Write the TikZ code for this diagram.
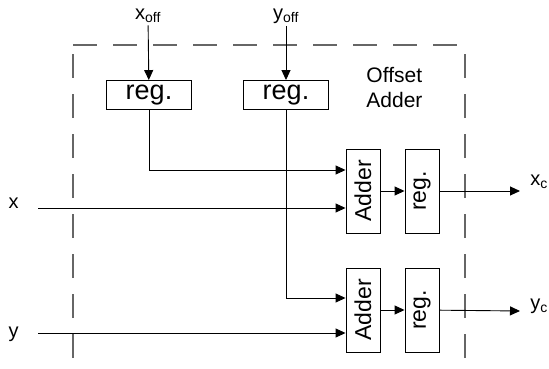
\documentclass[tikz,border=0pt]{standalone}
\usepackage{fontspec}
\setmainfont{Liberation Sans}
\usepackage{graphicx}
\usetikzlibrary{arrows.meta, positioning}

\begin{document}
\begin{tikzpicture}[x=1pt, y=-1pt, line width=0.9pt, >={Triangle[length=10pt,width=9pt]},
        every node/.style={inner sep=2pt, font=\fontsize{20}{25}\selectfont},
        regbox/.style={draw, minimum width=85pt, minimum height=29pt, inner sep=0pt, font=\fontsize{27}{30}\selectfont},
        addbox/.style={draw, minimum width=34pt, minimum height=84pt, inner sep=0pt, font=\fontsize{23}{26}\selectfont},
        dashbox/.style={draw=black!60, line width=1.2pt, dash pattern=on 24pt off 16pt}]
        \useasboundingbox (0,0) rectangle (549,369);
        % Offset adder frame
        \draw[dashbox] (73,358) -- (73,45);
        \draw[dashbox] (73,45) -- (465,45);
        \draw[dashbox] (465,358) -- (465,45);
        \node[align=left, anchor=west, font=\fontsize{21}{25}\selectfont] (title) at (364,88) {Offset\\Adder};
        % Offsets
        \node (xoff) at (148,16) {x\textsubscript{off}};
        \node (yoff) at (286,16) {y\textsubscript{off}};
        \node[regbox] (rega) at (149,95) {reg.};
        \node[regbox] (regb) at (286,95) {reg.};
        \draw[->] (xoff) -- (rega);
        \draw[->] (yoff) -- (regb);
        % Adders and output registers
        \node[addbox] (adda) at (363,191) {\rotatebox{90}{Adder}};
        \node[addbox] (outa) at (422,191) {\rotatebox{90}{reg.}};
        \node[addbox] (addb) at (363,310) {\rotatebox{90}{Adder}};
        \node[addbox] (outb) at (422,310) {\rotatebox{90}{reg.}};
        % Inputs
        \coordinate (xin) at (38,208); \node[left=17pt of xin, yshift=5pt] (xlbl) {x};
        \coordinate (yin) at (38,333); \node[left=17pt of yin, yshift=-1pt] (ylbl) {y};
        \draw[->] (xin) -- (xin -| adda.west);
        \draw[->] (yin) -- (yin -| addb.west);
        \draw[->] (rega.south) |- ([yshift=21pt]adda.west);
        \draw[->] (regb.south) |- ([yshift=12pt]addb.west);
        \draw[->] (adda) -- (outa);
        \draw[->] (addb) -- (outb);
        % Outputs
        \coordinate (xout) at (520,191); \node[right=8pt of xout, yshift=9pt] (xc) {x\textsubscript{c}};
        \coordinate (yout) at (520,311); \node[right=8pt of yout, yshift=5pt] (yc) {y\textsubscript{c}};
        \draw[->] (outa) -- (xout);
        \draw[->] (outb) -- (yout);
\end{tikzpicture}
\end{document}
